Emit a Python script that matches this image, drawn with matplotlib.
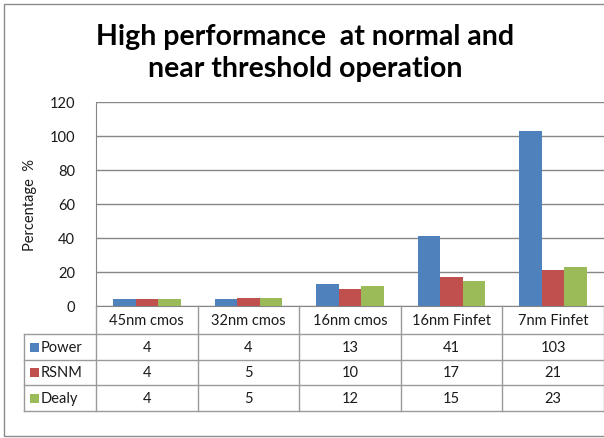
import matplotlib
matplotlib.use("Agg")
import matplotlib.pyplot as plt
from matplotlib.patches import Rectangle
from matplotlib.lines import Line2D
import matplotlib.transforms as mtransforms

categories = ["45nm cmos", "32nm cmos", "16nm cmos", "16nm Finfet", "7nm Finfet"]
series_names = ["Power", "RSNM", "Dealy"]
power = [4, 4, 13, 41, 103]
rsnm = [4, 5, 10, 17, 21]
dealy = [4, 5, 12, 15, 23]
series_values = [power, rsnm, dealy]
colors = ["#4F81BD", "#C0504D", "#9BBB59"]
yticks = [0, 20, 40, 60, 80, 100, 120]

W, H = 604, 439
plt.rcParams["font.family"] = ["Lato", "DejaVu Sans"]

fig = plt.figure(figsize=(W / 100, H / 100), dpi=100)


def fx(px):
    return px / W


def fy(py):
    return 1 - py / H


grid_c = "#868686"
table_c = "#9a9a9a"
text_c = "#1a1a1a"

# outer chart frame
fig.patches.append(Rectangle((fx(4), fy(437)), fx(700) - fx(4), fy(5) - fy(437),
                             transform=fig.transFigure, fill=False,
                             edgecolor="#8c8c8c", lw=1.0, zorder=0))

ax = fig.add_axes([fx(96), fy(307), 1 - fx(96), fy(103) - fy(307)])
ax.set_xlim(-0.5, len(categories) - 0.5)
ax.set_ylim(0, 120)

n = len(series_names)
bw = 1 / (n + 1.5)
for i, (name, vals, c) in enumerate(zip(series_names, series_values, colors)):
    xs = [k + (i - (n - 1) / 2) * bw for k in range(len(categories))]
    ax.bar(xs, vals, width=bw, color=c, label=name, zorder=3)

ax.set_yticks(yticks)
ax.set_yticklabels([str(t) for t in yticks], fontsize=10.5, color=text_c)
ax.set_xticks([])
ax.tick_params(axis="y", length=0, pad=15)
ax.grid(axis="y", color=grid_c, lw=1.0, zorder=0)
for s in ["top", "right"]:
    ax.spines[s].set_visible(False)
ax.spines["left"].set_color(grid_c)
ax.spines["bottom"].set_color(grid_c)
ax.set_ylabel("Percentage  %", fontsize=10.5, color=text_c, labelpad=9)

# data table below the plot
bt = mtransforms.blended_transform_factory(ax.transData, fig.transFigure)
row_lines = [335, 361, 386, 412]
header_mid = (307 + 335) / 2
row_mids = [(335 + 361) / 2, (361 + 386) / 2, (386 + 412) / 2]

for py in row_lines:
    fig.add_artist(Line2D([fx(24), 1], [fy(py), fy(py)], transform=fig.transFigure,
                          color=table_c, lw=1.0))
for k in range(len(categories) + 1):
    fig.add_artist(Line2D([k - 0.5, k - 0.5], [fy(307), fy(412)], transform=bt,
                          color=table_c, lw=1.0))
fig.add_artist(Line2D([fx(24), fx(24)], [fy(335), fy(412)], transform=fig.transFigure,
                      color=table_c, lw=1.0))

for k, cat in enumerate(categories):
    fig.text(k, fy(header_mid), cat, transform=bt, ha="center", va="center",
             fontsize=10.5, color=text_c)
    for r, vals in enumerate(series_values):
        fig.text(k, fy(row_mids[r]), str(vals[k]), transform=bt, ha="center",
                 va="center", fontsize=10.5, color=text_c)

for r, (name, c) in enumerate(zip(series_names, colors)):
    fig.patches.append(Rectangle((fx(30), fy(row_mids[r] + 4.5)), fx(9), fy(0) - fy(9),
                                 transform=fig.transFigure, facecolor=c, edgecolor="none"))
    fig.text(fx(41), fy(row_mids[r]), name, ha="left", va="center",
             fontsize=10.5, color=text_c)

fig.text(fx(305), fy(53), "High performance  at normal and\nnear threshold operation",
         ha="center", va="center", fontsize=20.5, fontweight="bold",
         linespacing=1.25, color="#000000")

fig.savefig("out.png", dpi=100)
